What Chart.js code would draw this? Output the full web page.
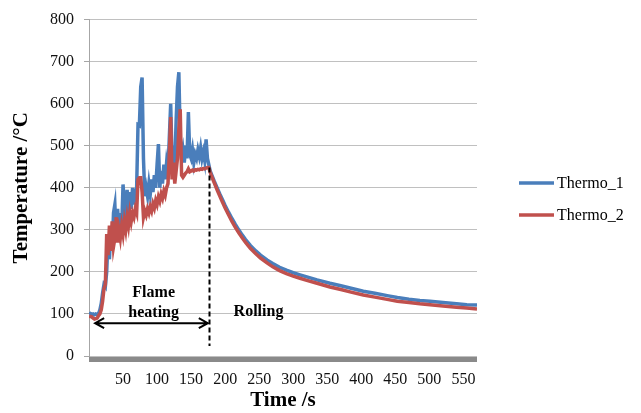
<!DOCTYPE html>
<html>
<head>
<meta charset="utf-8">
<script src="https://cdn.jsdelivr.net/npm/chart.js@4.4.1/dist/chart.umd.min.js"></script>
<style>
  html, body { margin: 0; padding: 0; background: #ffffff; }
  #wrap { width: 641px; height: 413px; }
</style>
</head>
<body>
<div id="wrap"><canvas id="c" width="641" height="413"></canvas></div>
<script>
// Sample times (s): flame heating every 2 s up to 176 s, then the rolling/cooling phase
const timeS = [
  0, 2, 4, 6, 8, 10, 12, 14, 16, 18, 20, 22, 24, 26, 28, 30, 32, 34, 36, 38,
  40, 42, 44, 46, 48, 50, 52, 54, 56, 58, 60, 62, 64, 66, 68, 70, 72, 74, 76, 78,
  80, 82, 84, 86, 88, 90, 92, 94, 96, 98, 100, 102, 104, 106, 108, 110, 112, 114, 116, 118,
  120, 122, 124, 126, 128, 130, 132, 134, 136, 138, 140, 142, 144, 146, 148, 150, 152, 154, 156, 158,
  160, 162, 164, 166, 168, 170, 172, 174, 176,
  178, 180, 184, 188, 192, 196, 200, 205, 210, 215, 220, 225, 230, 237, 245, 252, 262, 270, 280, 290,
  300, 310, 320, 335, 354, 370, 385, 403, 420, 440, 453, 470, 486, 501, 520, 540, 555, 570
];

// Thermo_1 temperature (°C)
const thermo1 = [
  100, 101, 99, 100, 98, 100, 99, 101, 110, 125, 150, 170, 165, 200, 280, 230, 300, 250, 340, 360,
  280, 350, 300, 340, 300, 408, 360, 330, 395, 340, 390, 350, 400, 360, 390, 400, 550, 548, 640, 662,
  470, 380, 400, 380, 410, 385, 420, 390, 430, 400, 455, 504, 400, 440, 410, 455, 420, 460, 440, 520,
  600, 470, 500, 450, 560, 640, 675, 520, 470, 490, 460, 500, 470, 580, 480, 470, 490, 460, 480, 470,
  490, 475, 495, 470, 485, 465, 515, 470, 455,
  440, 432, 416, 401, 386, 372, 358, 342, 327, 313, 300, 288, 277, 263, 250, 240, 228, 220, 211, 204,
  198, 193, 188, 181, 173, 167, 161, 154, 149, 143, 139, 135, 132, 130, 127, 124, 122, 121
];

// Thermo_2 temperature (°C)
const thermo2 = [
  95, 94, 93, 90, 88, 89, 90, 96, 100, 110, 130, 160, 170, 290, 240, 310, 250, 320, 260, 280,
  330, 270, 300, 280, 310, 290, 320, 300, 330, 310, 340, 320, 340, 330, 350, 340, 420, 424, 424, 390,
  330, 345, 335, 350, 340, 355, 345, 362, 352, 370, 360, 378, 368, 385, 375, 392, 382, 400, 410, 480,
  568, 420, 460, 410, 440, 470, 540, 587, 430, 425, 430, 435, 438, 445, 438, 440, 442, 440, 443, 442,
  444, 443, 445, 444, 446, 445, 447, 448, 448,
  437, 428, 412, 396, 381, 366, 352, 336, 320, 306, 293, 281, 270, 256, 243, 233, 221, 212, 203, 196,
  190, 185, 180, 173, 164, 158, 152, 145, 140, 134, 130, 127, 124, 122, 119, 116, 114, 112
];

const seriesNames = ['Thermo_1', 'Thermo_2'];
const seriesColors = ['#4a7ebb', '#c0504d'];
const xTickValues = [50, 100, 150, 200, 250, 300, 350, 400, 450, 500, 550];
const yTickValues = [0, 100, 200, 300, 400, 500, 600, 700, 800];

// Phase markers (time in s, temperature in °C)
const heatingEndS = 176;
const heatingStartS = 9;
const heatingPeakC = 448;
const phaseLabels = [
  { lines: ['Flame', 'heating'], t: 95, c: [149, 102] },
  { lines: ['Rolling'], t: 249, c: [106] }
];
const arrowLevelC = 78;
const markerBottomC = 24;

const serif = "'Liberation Serif', 'Times New Roman', serif";

const toPoints = (ys) => timeS.map((t, i) => ({ x: t, y: ys[i] }));

// Thick grey band under the plot, phase annotations and the legend
const decorations = {
  id: 'decorations',
  beforeDatasetsDraw(chart) {
    const { ctx, chartArea, scales } = chart;
    const y0 = scales.y.getPixelForValue(0);
    ctx.save();
    ctx.fillStyle = '#8a8a8a';
    ctx.fillRect(chartArea.left, y0 + 1, chartArea.right - chartArea.left, 5);
    ctx.restore();
  },
  afterDatasetsDraw(chart) {
    const { ctx, scales } = chart;
    const xs = scales.x, ys = scales.y;
    ctx.save();

    // dashed marker at the end of flame heating
    const xm = Math.round(xs.getPixelForValue(heatingEndS)) + 0.5;
    ctx.strokeStyle = '#000';
    ctx.lineWidth = 2;
    ctx.setLineDash([5, 3]);
    ctx.beginPath();
    ctx.moveTo(xm, ys.getPixelForValue(heatingPeakC));
    ctx.lineTo(xm, ys.getPixelForValue(markerBottomC));
    ctx.stroke();
    ctx.setLineDash([]);

    // double-headed arrow spanning the heating phase
    const ya = ys.getPixelForValue(arrowLevelC);
    const xa1 = xs.getPixelForValue(heatingStartS);
    const xa2 = xs.getPixelForValue(heatingEndS) - 1;
    ctx.lineWidth = 2;
    ctx.beginPath();
    ctx.moveTo(xa1, ya); ctx.lineTo(xa2, ya);
    ctx.moveTo(xa1 + 9, ya - 5); ctx.lineTo(xa1, ya); ctx.lineTo(xa1 + 9, ya + 5);
    ctx.moveTo(xa2 - 9, ya - 5); ctx.lineTo(xa2, ya); ctx.lineTo(xa2 - 9, ya + 5);
    ctx.stroke();

    // phase labels
    ctx.fillStyle = '#000';
    ctx.font = 'bold 16px ' + serif;
    ctx.textAlign = 'center';
    ctx.textBaseline = 'middle';
    phaseLabels.forEach(p => {
      p.lines.forEach((s, i) => {
        ctx.fillText(s, xs.getPixelForValue(p.t), ys.getPixelForValue(p.c[i]));
      });
    });

    // legend
    const legendX = 519, legendY = [183, 215];
    ctx.textAlign = 'left';
    ctx.font = '16px ' + serif;
    seriesNames.forEach((name, i) => {
      ctx.strokeStyle = seriesColors[i];
      ctx.lineWidth = 3.5;
      ctx.beginPath();
      ctx.moveTo(legendX, legendY[i]);
      ctx.lineTo(legendX + 35, legendY[i]);
      ctx.stroke();
      ctx.fillStyle = '#000';
      ctx.fillText(name, legendX + 38, legendY[i] + 1);
    });
    ctx.restore();
  }
};

new Chart(document.getElementById('c'), {
  type: 'line',
  data: {
    datasets: [
      { label: seriesNames[0], data: toPoints(thermo1), borderColor: seriesColors[0],
        borderWidth: 3.5, pointRadius: 0, tension: 0, order: 1 },
      { label: seriesNames[1], data: toPoints(thermo2), borderColor: seriesColors[1],
        borderWidth: 3.5, pointRadius: 0, tension: 0, order: 0 }
    ]
  },
  options: {
    responsive: false,
    devicePixelRatio: 1,
    animation: false,
    layout: { padding: { top: 18, right: 164, left: 0, bottom: 0 } },
    plugins: { legend: { display: false }, tooltip: { enabled: false } },
    scales: {
      x: {
        type: 'linear',
        min: 0, max: 570,
        afterBuildTicks: (s) => { s.ticks = xTickValues.map(v => ({ value: v })); },
        afterFit: (s) => { s.height = 57; },
        grid: { display: false },
        border: { display: false },
        ticks: { color: '#111', font: { family: serif, size: 16 }, padding: 6, maxRotation: 0, autoSkip: false },
        title: { display: true, text: 'Time /s', color: '#000',
                 font: { family: serif, size: 21, weight: 'bold' }, padding: { top: 0, bottom: 0 } }
      },
      y: {
        min: 0, max: 800,
        afterBuildTicks: (s) => { s.ticks = yTickValues.map(v => ({ value: v })); },
        afterFit: (s) => { s.width = 89; },
        grid: { color: '#c0c0c0', lineWidth: 1, tickLength: 5, tickColor: '#a6a6a6' },
        border: { color: '#a6a6a6', width: 1 },
        ticks: { color: '#111', font: { family: serif, size: 16 }, padding: 10 },
        title: { display: true, text: 'Temperature /°C', color: '#000',
                 font: { family: serif, size: 21, weight: 'bold' }, padding: { top: 9, bottom: 0 } }
      }
    }
  },
  plugins: [decorations]
});
</script>
</body>
</html>
